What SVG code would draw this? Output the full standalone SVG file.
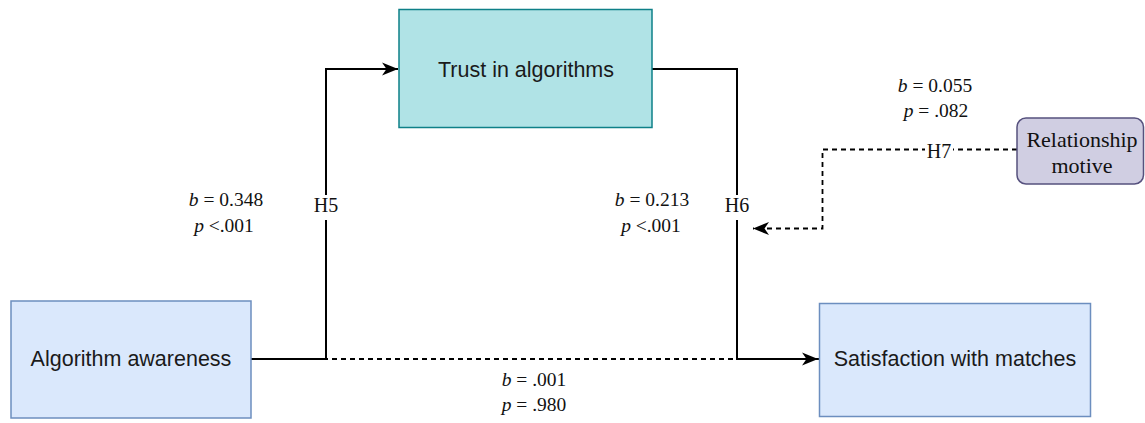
<svg xmlns="http://www.w3.org/2000/svg" width="1145" height="423" viewBox="0 0 1145 423">
<style>
.box{font-family:"Liberation Sans",Arial,sans-serif;font-size:21.5px;fill:#1a1a1a;text-anchor:middle}
.stat{font-family:"Liberation Serif","Times New Roman",serif;font-size:19.5px;fill:#111;text-anchor:middle}
.h{font-family:"Liberation Serif","Times New Roman",serif;font-size:20px;fill:#111;text-anchor:middle}
.rel{font-family:"Liberation Serif","Times New Roman",serif;font-size:22px;fill:#111;text-anchor:middle}
.solid{fill:none;stroke:#000;stroke-width:2}
.dash{fill:none;stroke:#000;stroke-width:1.8;stroke-dasharray:5 4}
</style>
<defs>
<marker id="arr" markerUnits="userSpaceOnUse" markerWidth="18" markerHeight="16" refX="16" refY="8" orient="auto">
<path d="M0,1.5 L16,8 L0,14.5 L4.5,8 Z" fill="#000"/>
</marker>
</defs>
<rect width="1145" height="423" fill="#fff"/>
<g id="connectors">
<path class="dash" d="M251,359 H819"/>
<path class="solid" d="M251,359 H326 V69 H398" marker-end="url(#arr)"/>
<path class="solid" d="M652,69 H737 V359 H818" marker-end="url(#arr)"/>
<path class="dash" d="M1017,149.5 H822.5 V228.5 H753" marker-end="url(#arr)"/>
<rect x="312" y="195" width="28" height="25" fill="#fff"/>
<text class="h" x="326" y="212">H5</text>
<rect x="723" y="195" width="28" height="25" fill="#fff"/>
<text class="h" x="737" y="212">H6</text>
<rect x="925" y="140" width="28" height="20" fill="#fff"/>
<text class="h" x="939" y="158">H7</text>
</g>
<g id="labels">
<text class="stat" x="226" y="206"><tspan font-style="italic">b</tspan> = 0.348</text>
<text class="stat" x="224" y="232"><tspan font-style="italic">p</tspan> &lt;.001</text>
<text class="stat" x="652" y="206"><tspan font-style="italic">b</tspan> = 0.213</text>
<text class="stat" x="651" y="232"><tspan font-style="italic">p</tspan> &lt;.001</text>
<text class="stat" x="935" y="92"><tspan font-style="italic">b</tspan> = 0.055</text>
<text class="stat" x="936" y="117"><tspan font-style="italic">p</tspan> = .082</text>
<text class="stat" x="534" y="386"><tspan font-style="italic">b</tspan> = .001</text>
<text class="stat" x="534" y="411"><tspan font-style="italic">p</tspan> = .980</text>
</g>
<g id="algorithm-awareness">
<rect x="11" y="301" width="240" height="117" fill="#dae8fc" stroke="#6c8ebf" stroke-width="1.5"/>
<text class="box" x="131" y="366">Algorithm awareness</text>
</g>
<g id="trust">
<rect x="399" y="9.5" width="253" height="118" fill="#b0e3e6" stroke="#0e8088" stroke-width="1.5"/>
<text class="box" x="526" y="77">Trust in algorithms</text>
</g>
<g id="satisfaction">
<rect x="819.5" y="303.5" width="271" height="113" fill="#dae8fc" stroke="#6c8ebf" stroke-width="1.5"/>
<text class="box" x="955" y="366">Satisfaction with matches</text>
</g>
<g id="relationship-motive">
<rect x="1017" y="118" width="126.5" height="66" rx="9" fill="#d0cee2" stroke="#56517e" stroke-width="1.5"/>
<text class="rel" x="1082" y="147">Relationship</text>
<text class="rel" x="1082" y="173">motive</text>
</g>
</svg>
